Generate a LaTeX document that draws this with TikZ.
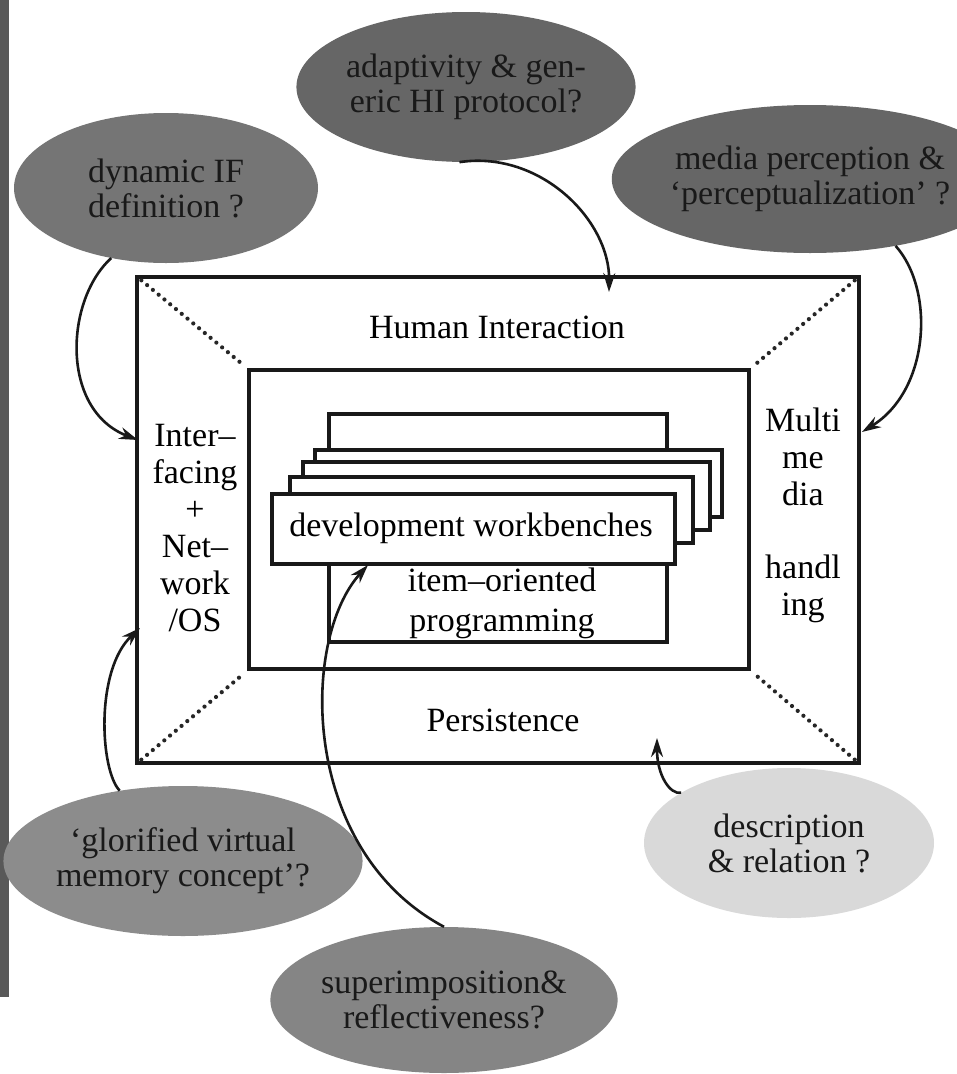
\documentclass[tikz,border=0pt]{standalone}
\usepackage{fontspec}
\setmainfont{Liberation Serif}
\usetikzlibrary{shapes.geometric,arrows.meta}
\begin{document}
\begin{tikzpicture}[x=1pt,y=-1pt,
  box/.style={draw=black!90, line width=3.6pt, fill=white, inner sep=0pt},
  lbl/.style={font=\fontsize{34}{37}\selectfont, align=center, inner sep=0pt, text=black},
  bubble/.style={ellipse, inner sep=0pt, minimum width=304pt, minimum height=150pt,
     font=\fontsize{34}{35}\selectfont, align=center, text=black!90},
  dotline/.style={line width=4.2pt, dash pattern=on 0pt off 7.5pt, line cap=round, draw=black!85},
  conn/.style={line width=2.6pt, draw=black!90, -{Stealth[length=19pt,width=12pt]}}]
\useasboundingbox (0,0) rectangle (957,1074);
\fill[white] (0,0) rectangle (957,1074);
% scanned page edge
\fill[black!65] (0,0) rectangle (9,997);

% boxes
\node[box, minimum width=722pt, minimum height=486pt] (outer) at (498,520) {};
\node[box, minimum width=500pt, minimum height=299pt] (inner) at (499,519.5) {};
\draw[dotline, shorten <=8pt, shorten >=6pt] (outer.north west) -- (inner.north west);
\draw[dotline, shorten <=8pt, shorten >=6pt] (outer.north east) -- (inner.north east);
\draw[dotline, shorten <=8pt, shorten >=6pt] (outer.south west) -- (inner.south west);
\draw[dotline, shorten <=8pt, shorten >=6pt] (outer.south east) -- (inner.south east);

\node[box, minimum width=338pt, minimum height=228pt] (item) at (498,528) {};
\node[box, minimum width=407pt, minimum height=67pt] (wb3) at (518.5,483.5) {};
\node[box, minimum width=407pt, minimum height=68pt] (wb2) at (506.5,496) {};
\node[box, minimum width=403pt, minimum height=66pt] (wb1) at (491.5,510) {};
\node[box, minimum width=403pt, minimum height=70pt] (front) at (473.5,529) {};

% labels
\node[lbl] (hi) at (497,327) {Human Interaction};
\node[lbl] (pers) at (503,720) {Persistence};
\node[lbl] (iface) at (195,528) {Inter–\\facing\\+\\Net–\\work\\/OS};
\node[lbl] (mm) at (803,515) {Multi\\me\\dia\\[36pt]handl\\ing};
\node[lbl] (dwb) at (471,528) {development workbenches};
\node[lbl, font=\fontsize{34}{40}\selectfont] (iop) at (502,603) {item–oriented\\programming};

% bubbles
\node[bubble, fill=black!60, minimum width=302pt] (adapt) at (466,87) {adaptivity \& gen-\\eric HI protocol?};
\node[bubble, fill=black!54] (dyn) at (166,188) {dynamic IF\\definition ?};
\node[bubble, fill=black!60, minimum width=300pt, minimum height=148pt] (media) at (810,179) {media perception \&\\‘perceptualization’ ?};
\node[bubble, fill=black!45] (glor) at (183,861) {‘glorified virtual\\memory concept’?};
\node[bubble, fill=black!15, minimum width=290pt] (desc) at (789,843) {description\\\& relation ?};
\node[bubble, fill=black!48, minimum width=302pt, minimum height=146pt] (super) at (444,1000) {superimposition\&\\reflectiveness?};

% arrow targets
\coordinate (tA) at (138,440);
\coordinate (tB) at (609,292);
\coordinate (tC) at (862,432);
\coordinate (tD) at (140,628);
\coordinate (tE) at (368,565);
\coordinate (tF) at (657,738);

% connectors
\draw[conn] (dyn.232) .. controls (65,300) and (60,410) .. (tA);
\draw[conn] (adapt.265) .. controls (540,150) and (610,220) .. (tB);
\draw[conn] (media.322) .. controls (935,290) and (930,390) .. (tC);
\draw[conn] (glor.132) .. controls (100,770) and (95,670) .. (tD);
\draw[conn] (super.north) .. controls (300,850) and (300,640) .. (tE);
\draw[conn] (desc.155) .. controls (670,795) and (657,775) .. (tF);
\end{tikzpicture}
\end{document}
